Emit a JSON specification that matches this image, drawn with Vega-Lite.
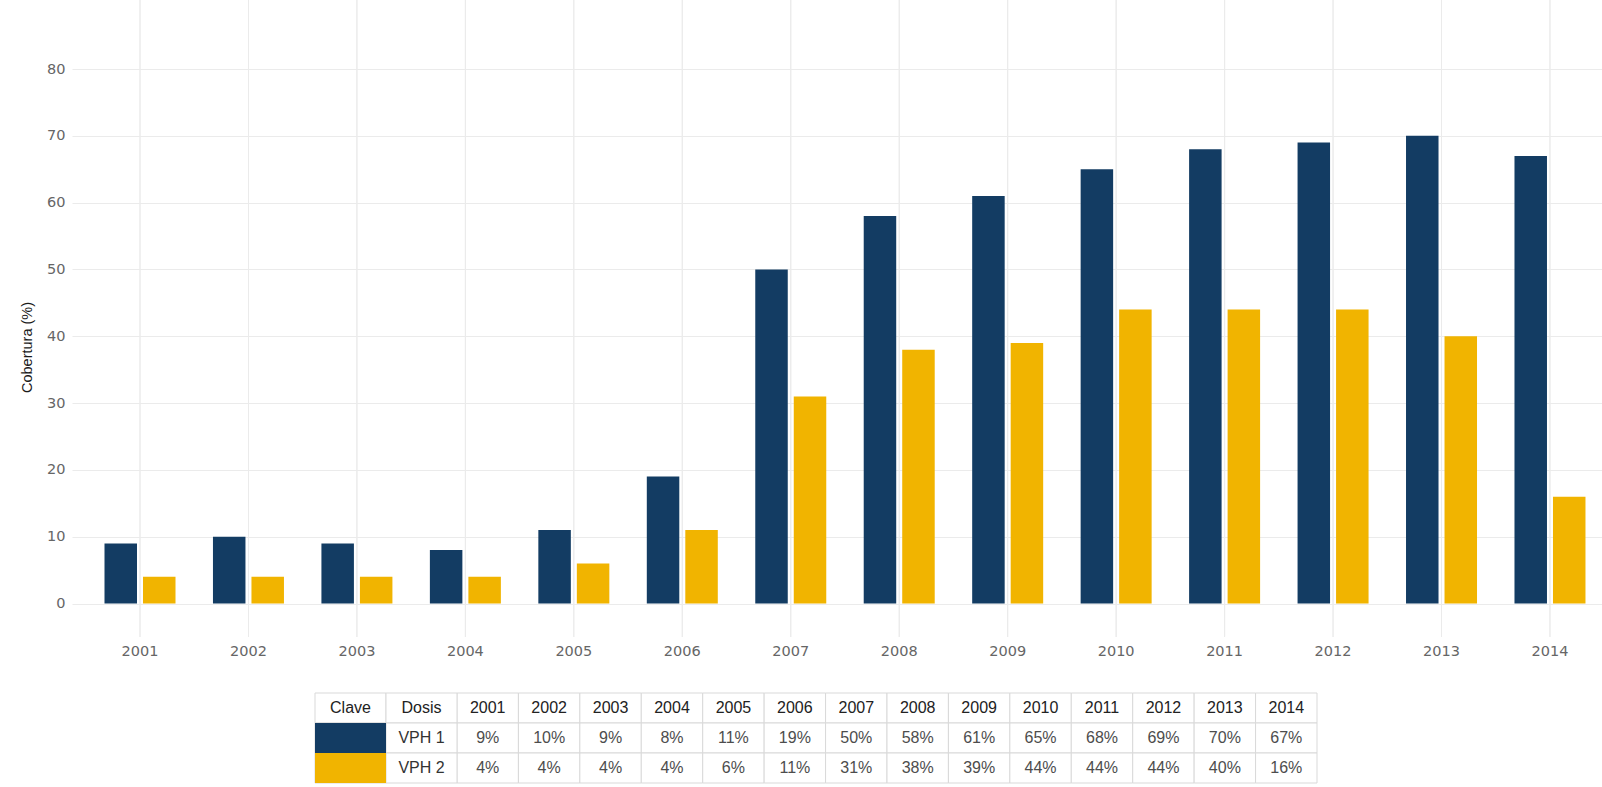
{
  "$schema": "https://vega.github.io/schema/vega-lite/v6.json",
  "width": 1530,
  "height": 787,
  "autosize": {"type": "none"},
  "padding": {"left": 72, "top": 0, "right": 0, "bottom": 0},
  "background": "white",
  "config": {"view": {"stroke": null}, "font": "Liberation Sans"},
  "datasets": {
    "barras": [
      {"Año": "2001", "Dosis": "VPH 1", "Cobertura": 9},
      {"Año": "2002", "Dosis": "VPH 1", "Cobertura": 10},
      {"Año": "2003", "Dosis": "VPH 1", "Cobertura": 9},
      {"Año": "2004", "Dosis": "VPH 1", "Cobertura": 8},
      {"Año": "2005", "Dosis": "VPH 1", "Cobertura": 11},
      {"Año": "2006", "Dosis": "VPH 1", "Cobertura": 19},
      {"Año": "2007", "Dosis": "VPH 1", "Cobertura": 50},
      {"Año": "2008", "Dosis": "VPH 1", "Cobertura": 58},
      {"Año": "2009", "Dosis": "VPH 1", "Cobertura": 61},
      {"Año": "2010", "Dosis": "VPH 1", "Cobertura": 65},
      {"Año": "2011", "Dosis": "VPH 1", "Cobertura": 68},
      {"Año": "2012", "Dosis": "VPH 1", "Cobertura": 69},
      {"Año": "2013", "Dosis": "VPH 1", "Cobertura": 70},
      {"Año": "2014", "Dosis": "VPH 1", "Cobertura": 67},
      {"Año": "2001", "Dosis": "VPH 2", "Cobertura": 4},
      {"Año": "2002", "Dosis": "VPH 2", "Cobertura": 4},
      {"Año": "2003", "Dosis": "VPH 2", "Cobertura": 4},
      {"Año": "2004", "Dosis": "VPH 2", "Cobertura": 4},
      {"Año": "2005", "Dosis": "VPH 2", "Cobertura": 6},
      {"Año": "2006", "Dosis": "VPH 2", "Cobertura": 11},
      {"Año": "2007", "Dosis": "VPH 2", "Cobertura": 31},
      {"Año": "2008", "Dosis": "VPH 2", "Cobertura": 38},
      {"Año": "2009", "Dosis": "VPH 2", "Cobertura": 39},
      {"Año": "2010", "Dosis": "VPH 2", "Cobertura": 44},
      {"Año": "2011", "Dosis": "VPH 2", "Cobertura": 44},
      {"Año": "2012", "Dosis": "VPH 2", "Cobertura": 44},
      {"Año": "2013", "Dosis": "VPH 2", "Cobertura": 40},
      {"Año": "2014", "Dosis": "VPH 2", "Cobertura": 16}
    ],
    "tabla": [
      {"Fila": "Encabezado", "Columna": "Clave", "Texto": "Clave"},
      {"Fila": "Encabezado", "Columna": "Dosis", "Texto": "Dosis"},
      {"Fila": "VPH 1", "Columna": "Clave", "Texto": ""},
      {"Fila": "VPH 1", "Columna": "Dosis", "Texto": "VPH 1"},
      {"Fila": "VPH 2", "Columna": "Clave", "Texto": ""},
      {"Fila": "VPH 2", "Columna": "Dosis", "Texto": "VPH 2"},
      {"Fila": "Encabezado", "Columna": "2001", "Texto": "2001"},
      {"Fila": "Encabezado", "Columna": "2002", "Texto": "2002"},
      {"Fila": "Encabezado", "Columna": "2003", "Texto": "2003"},
      {"Fila": "Encabezado", "Columna": "2004", "Texto": "2004"},
      {"Fila": "Encabezado", "Columna": "2005", "Texto": "2005"},
      {"Fila": "Encabezado", "Columna": "2006", "Texto": "2006"},
      {"Fila": "Encabezado", "Columna": "2007", "Texto": "2007"},
      {"Fila": "Encabezado", "Columna": "2008", "Texto": "2008"},
      {"Fila": "Encabezado", "Columna": "2009", "Texto": "2009"},
      {"Fila": "Encabezado", "Columna": "2010", "Texto": "2010"},
      {"Fila": "Encabezado", "Columna": "2011", "Texto": "2011"},
      {"Fila": "Encabezado", "Columna": "2012", "Texto": "2012"},
      {"Fila": "Encabezado", "Columna": "2013", "Texto": "2013"},
      {"Fila": "Encabezado", "Columna": "2014", "Texto": "2014"},
      {"Fila": "VPH 1", "Columna": "2001", "Texto": "9%"},
      {"Fila": "VPH 1", "Columna": "2002", "Texto": "10%"},
      {"Fila": "VPH 1", "Columna": "2003", "Texto": "9%"},
      {"Fila": "VPH 1", "Columna": "2004", "Texto": "8%"},
      {"Fila": "VPH 1", "Columna": "2005", "Texto": "11%"},
      {"Fila": "VPH 1", "Columna": "2006", "Texto": "19%"},
      {"Fila": "VPH 1", "Columna": "2007", "Texto": "50%"},
      {"Fila": "VPH 1", "Columna": "2008", "Texto": "58%"},
      {"Fila": "VPH 1", "Columna": "2009", "Texto": "61%"},
      {"Fila": "VPH 1", "Columna": "2010", "Texto": "65%"},
      {"Fila": "VPH 1", "Columna": "2011", "Texto": "68%"},
      {"Fila": "VPH 1", "Columna": "2012", "Texto": "69%"},
      {"Fila": "VPH 1", "Columna": "2013", "Texto": "70%"},
      {"Fila": "VPH 1", "Columna": "2014", "Texto": "67%"},
      {"Fila": "VPH 2", "Columna": "2001", "Texto": "4%"},
      {"Fila": "VPH 2", "Columna": "2002", "Texto": "4%"},
      {"Fila": "VPH 2", "Columna": "2003", "Texto": "4%"},
      {"Fila": "VPH 2", "Columna": "2004", "Texto": "4%"},
      {"Fila": "VPH 2", "Columna": "2005", "Texto": "6%"},
      {"Fila": "VPH 2", "Columna": "2006", "Texto": "11%"},
      {"Fila": "VPH 2", "Columna": "2007", "Texto": "31%"},
      {"Fila": "VPH 2", "Columna": "2008", "Texto": "38%"},
      {"Fila": "VPH 2", "Columna": "2009", "Texto": "39%"},
      {"Fila": "VPH 2", "Columna": "2010", "Texto": "44%"},
      {"Fila": "VPH 2", "Columna": "2011", "Texto": "44%"},
      {"Fila": "VPH 2", "Columna": "2012", "Texto": "44%"},
      {"Fila": "VPH 2", "Columna": "2013", "Texto": "40%"},
      {"Fila": "VPH 2", "Columna": "2014", "Texto": "16%"}
    ]
  },
  "layer": [
    {
      "data": {"name": "barras"},
      "mark": {"type": "rule", "color": "#ebebeb", "strokeWidth": 1},
      "encoding": {
        "x": {
          "field": "Año", "type": "nominal", "bandPosition": 0.5,
          "scale": {"type": "band", "domain": ["2001","2002","2003","2004","2005","2006","2007","2008","2009","2010","2011","2012","2013","2014"], "paddingInner": 0.3454, "paddingOuter": 0.226, "align": 0.663},
          "axis": null
        },
        "y": {"datum": -5, "type": "quantitative", "scale": {"domain": [-27.45, 90.33], "nice": false, "zero": false}, "axis": null},
        "y2": {"datum": 90.33}
      }
    },
    {
      "data": {"name": "barras"},
      "mark": {"type": "bar"},
      "encoding": {
        "x": {
          "field": "Año", "type": "nominal",
          "scale": {"type": "band", "domain": ["2001","2002","2003","2004","2005","2006","2007","2008","2009","2010","2011","2012","2013","2014"], "paddingInner": 0.3454, "paddingOuter": 0.226, "align": 0.663},
          "axis": {"title": null, "domain": false, "ticks": false, "grid": false, "labelAngle": 0, "labelPadding": 7, "labelFont": "DejaVu Sans", "labelFontSize": 14.5, "labelColor": "#666666", "offset": -150}
        },
        "xOffset": {"field": "Dosis", "type": "nominal", "scale": {"domain": ["VPH 1", "VPH 2"], "paddingInner": 0.156, "paddingOuter": 0}},
        "y": {
          "field": "Cobertura", "type": "quantitative",
          "scale": {"domain": [-27.45, 90.33], "nice": false, "zero": false},
          "axis": {"values": [0,10,20,30,40,50,60,70,80], "grid": true, "gridColor": "#ebebeb", "gridWidth": 1, "domain": false, "ticks": false, "labelPadding": 7, "labelFont": "DejaVu Sans", "labelFontSize": 14.5, "labelColor": "#666666", "title": "Cobertura (%)", "titleFont": "Liberation Sans", "titleFontSize": 14.5, "titleFontWeight": "normal", "titleColor": "#1a1a1a", "titleX": -45, "titleY": 347, "titleAngle": -90, "titleBaseline": "middle", "titleAlign": "center"}
        },
        "y2": {"datum": 0},
        "color": {"field": "Dosis", "type": "nominal", "scale": {"domain": ["VPH 1", "VPH 2"], "range": ["#133c63", "#f1b400"]}, "legend": null}
      }
    },
    {
      "data": {"name": "tabla"},
      "transform": [{"filter": {"field": "Columna", "oneOf": ["2001","2002","2003","2004","2005","2006","2007","2008","2009","2010","2011","2012","2013","2014"]}}],
      "mark": {"type": "rect", "fill": "white", "stroke": "#d9d9d9", "strokeWidth": 1},
      "encoding": {
        "x": {"field": "Columna", "type": "nominal", "scale": {"type": "band", "domain": ["2001","2002","2003","2004","2005","2006","2007","2008","2009","2010","2011","2012","2013","2014"], "paddingInner": 0, "paddingOuter": 0, "range": [385, 1245]}, "axis": null},
        "y": {"field": "Fila", "type": "nominal", "scale": {"type": "band", "domain": ["Encabezado", "VPH 1", "VPH 2"], "paddingInner": 0, "paddingOuter": 0, "range": [693, 783]}, "axis": null}
      }
    },
    {
      "data": {"name": "tabla"},
      "transform": [{"filter": {"field": "Columna", "oneOf": ["2001","2002","2003","2004","2005","2006","2007","2008","2009","2010","2011","2012","2013","2014"]}}, {"filter": "datum.Fila == 'Encabezado'"}],
      "mark": {"type": "text", "font": "Liberation Sans", "fontSize": 16, "color": "#222222"},
      "encoding": {
        "x": {"field": "Columna", "type": "nominal", "bandPosition": 0.5, "scale": {"type": "band", "domain": ["2001","2002","2003","2004","2005","2006","2007","2008","2009","2010","2011","2012","2013","2014"], "paddingInner": 0, "paddingOuter": 0, "range": [385, 1245]}, "axis": null},
        "y": {"field": "Fila", "type": "nominal", "bandPosition": 0.5, "scale": {"type": "band", "domain": ["Encabezado", "VPH 1", "VPH 2"], "paddingInner": 0, "paddingOuter": 0, "range": [693, 783]}, "axis": null},
        "text": {"field": "Texto"}
      }
    },
    {
      "data": {"name": "tabla"},
      "transform": [{"filter": {"field": "Columna", "oneOf": ["2001","2002","2003","2004","2005","2006","2007","2008","2009","2010","2011","2012","2013","2014"]}}, {"filter": "datum.Fila != 'Encabezado'"}],
      "mark": {"type": "text", "font": "Liberation Sans", "fontSize": 16, "color": "#4d4d4d"},
      "encoding": {
        "x": {"field": "Columna", "type": "nominal", "bandPosition": 0.5, "scale": {"type": "band", "domain": ["2001","2002","2003","2004","2005","2006","2007","2008","2009","2010","2011","2012","2013","2014"], "paddingInner": 0, "paddingOuter": 0, "range": [385, 1245]}, "axis": null},
        "y": {"field": "Fila", "type": "nominal", "bandPosition": 0.5, "scale": {"type": "band", "domain": ["Encabezado", "VPH 1", "VPH 2"], "paddingInner": 0, "paddingOuter": 0, "range": [693, 783]}, "axis": null},
        "text": {"field": "Texto"}
      }
    },
    {
      "data": {"name": "tabla"},
      "transform": [{"filter": {"field": "Columna", "oneOf": ["Clave", "Dosis"]}}],
      "mark": {"type": "rect", "fill": "white", "stroke": "#d9d9d9", "strokeWidth": 1},
      "encoding": {
        "x": {"field": "Columna", "type": "nominal", "scale": {"type": "band", "domain": ["Clave", "Dosis"], "paddingInner": 0, "paddingOuter": 0, "range": [243, 385]}, "axis": null},
        "y": {"field": "Fila", "type": "nominal", "scale": {"type": "band", "domain": ["Encabezado", "VPH 1", "VPH 2"], "paddingInner": 0, "paddingOuter": 0, "range": [693, 783]}, "axis": null}
      }
    },
    {
      "data": {"name": "tabla"},
      "transform": [{"filter": "datum.Columna == 'Clave' && datum.Fila != 'Encabezado'"}],
      "mark": {"type": "rect"},
      "encoding": {
        "x": {"field": "Columna", "type": "nominal", "scale": {"type": "band", "domain": ["Clave", "Dosis"], "paddingInner": 0, "paddingOuter": 0, "range": [243, 385]}, "axis": null},
        "y": {"field": "Fila", "type": "nominal", "scale": {"type": "band", "domain": ["Encabezado", "VPH 1", "VPH 2"], "paddingInner": 0, "paddingOuter": 0, "range": [693, 783]}, "axis": null},
        "color": {"field": "Fila", "type": "nominal", "scale": {"domain": ["VPH 1", "VPH 2"], "range": ["#133c63", "#f1b400"]}, "legend": null}
      }
    },
    {
      "data": {"name": "tabla"},
      "transform": [{"filter": {"field": "Columna", "oneOf": ["Clave", "Dosis"]}}, {"filter": "datum.Fila == 'Encabezado'"}],
      "mark": {"type": "text", "font": "Liberation Sans", "fontSize": 16, "color": "#222222"},
      "encoding": {
        "x": {"field": "Columna", "type": "nominal", "bandPosition": 0.5, "scale": {"type": "band", "domain": ["Clave", "Dosis"], "paddingInner": 0, "paddingOuter": 0, "range": [243, 385]}, "axis": null},
        "y": {"field": "Fila", "type": "nominal", "bandPosition": 0.5, "scale": {"type": "band", "domain": ["Encabezado", "VPH 1", "VPH 2"], "paddingInner": 0, "paddingOuter": 0, "range": [693, 783]}, "axis": null},
        "text": {"field": "Texto"}
      }
    },
    {
      "data": {"name": "tabla"},
      "transform": [{"filter": "datum.Columna == 'Dosis' && datum.Fila != 'Encabezado'"}],
      "mark": {"type": "text", "font": "Liberation Sans", "fontSize": 16, "color": "#333333"},
      "encoding": {
        "x": {"field": "Columna", "type": "nominal", "bandPosition": 0.5, "scale": {"type": "band", "domain": ["Clave", "Dosis"], "paddingInner": 0, "paddingOuter": 0, "range": [243, 385]}, "axis": null},
        "y": {"field": "Fila", "type": "nominal", "bandPosition": 0.5, "scale": {"type": "band", "domain": ["Encabezado", "VPH 1", "VPH 2"], "paddingInner": 0, "paddingOuter": 0, "range": [693, 783]}, "axis": null},
        "text": {"field": "Texto"}
      }
    }
  ],
  "resolve": {"scale": {"x": "independent", "y": "independent"}}
}
